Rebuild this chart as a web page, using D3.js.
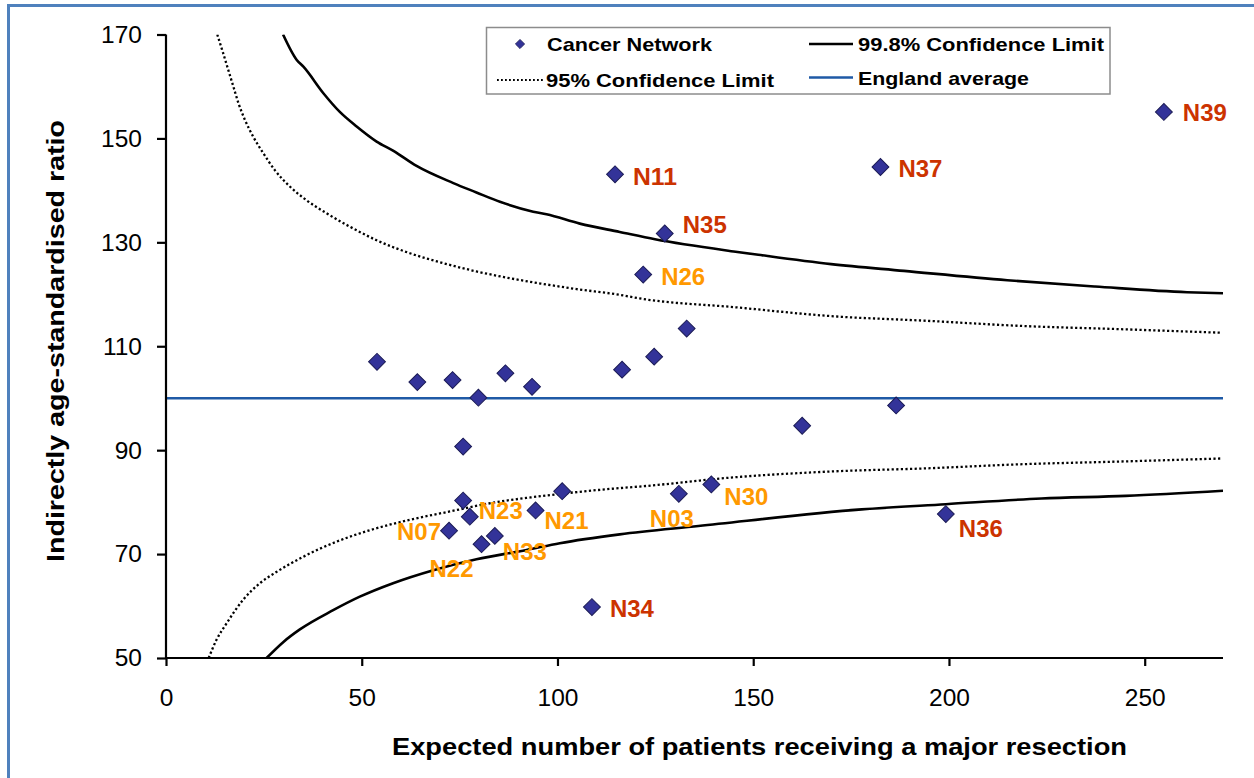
<!DOCTYPE html>
<html>
<head>
<meta charset="utf-8">
<script src="https://cdn.jsdelivr.net/npm/d3@7"></script>
<style>
  html, body { margin: 0; padding: 0; background: #ffffff; }
  svg { display: block; font-family: "Liberation Sans", Arial, sans-serif; }
</style>
</head>
<body>
<svg id="chart" width="1254" height="778"></svg>
<script>
// Cancer networks: expected number of patients vs indirectly age-standardised ratio
const networkNames = ["N39", "N37", "N11", "N35", "N26", "", "", "", "", "", "", "", "", "",
  "", "", "N23", "N07", "N22", "N33", "N21", "", "N03", "N30", "N34", "", "", "N36"];
const expectedPatients = [254.9, 182.5, 114.7, 127.4, 121.9, 133.0, 124.7, 116.5, 53.9, 64.2,
  73.2, 79.8, 86.7, 93.5, 75.9, 75.9, 77.6, 72.3, 80.6, 84.0, 94.4, 101.2, 131.0, 139.3, 108.8,
  162.5, 186.5, 199.2];
const standardisedRatio = [155.1, 144.5, 143.1, 131.7, 123.8, 113.4, 108.0, 105.5, 107.0, 103.1,
  103.5, 100.1, 104.8, 102.2, 90.7, 80.3, 77.2, 74.5, 71.9, 73.5, 78.4, 82.1, 81.6, 83.4, 59.8,
  94.7, 98.6, 77.7];
// which control limit each network lies outside of ("" = within 95% limits)
const limitExceeded = ["99.8", "99.8", "99.8", "99.8", "95", "", "", "", "", "", "", "", "", "",
  "", "", "95", "95", "95", "95", "95", "", "95", "95", "99.8", "", "", "99.8"];

// Funnel control limits
const upper998E = [29.9, 33.4, 35.1, 40.2, 44.4, 48.7, 53.8, 58.1, 64.0, 73.4, 79.3, 85.3, 93.8,
  97.2, 105.7, 115.9, 124.9, 145.5, 151.3, 169.9, 188.5, 214.9, 237.3, 260.8, 270];
const upper998R = [170, 165.1, 163.8, 158.7, 155.1, 152.3, 149.4, 147.6, 144.7, 141.4, 139.6,
  137.8, 135.9, 135.4, 133.6, 132.0, 130.6, 128.2, 127.6, 125.8, 124.5, 122.7, 121.5, 120.4, 120.2];
const upper95E = [13.1, 14.6, 15.9, 17.2, 18.5, 20.2, 22.3, 24.9, 27.8, 31.7, 35.9, 41.0, 47.0,
  53.8, 62.3, 70.8, 79.3, 87.8, 96.3, 104.9, 115.9, 121.0, 145.5, 169.9, 194.3, 218.8, 243.2, 269.6];
const upper95R = [170, 166.4, 163.2, 160.0, 156.8, 153.5, 150.3, 147.1, 143.9, 140.7, 138.1,
  135.6, 133.0, 130.4, 127.9, 126.0, 124.4, 123.1, 122.0, 121.0, 119.9, 119.2, 117.5, 115.8,
  114.9, 113.9, 113.3, 112.6];
const lower95E = [10.9, 12.9, 15.5, 19.7, 24.0, 28.3, 35.1, 43.6, 52.1, 62.3, 72.5, 83.6, 96.3,
  115.9, 121.0, 145.5, 169.9, 194.3, 218.8, 243.2, 269.6];
const lower95R = [50, 53.5, 56.7, 61.2, 64.4, 66.6, 69.5, 72.4, 74.6, 76.6, 78.2, 79.9, 81.2,
  82.7, 83.0, 84.8, 85.9, 86.5, 87.3, 87.8, 88.4];
const lower998E = [25.7, 30.0, 34.2, 42.7, 49.5, 58.0, 68.3, 79.3, 92.1, 100.6, 115.9, 136.0,
  177.7, 199.2, 223.6, 245.1, 270];
const lower998R = [50, 53.1, 55.5, 59.2, 61.8, 64.4, 66.9, 69.0, 70.8, 72.1, 73.8, 75.4, 78.6,
  79.6, 80.7, 81.2, 82.2];
const englandAverage = 100;

const xTicks = [0, 50, 100, 150, 200, 250];
const yTicks = [50, 70, 90, 110, 130, 150, 170];
const xTitle = "Expected number of patients receiving a major resection";
const yTitle = "Indirectly age-standardised ratio";
const legendItems = ["Cancer Network", "99.8% Confidence Limit", "95% Confidence Limit", "England average"];

// ---- drawing ----
const svg = d3.select("#chart");
const FONT = '"Liberation Sans", Arial, sans-serif';
const plot = { left: 166, right: 1223, top: 34.5, bottom: 658 };

const x = d3.scaleLinear().domain([0, 270]).range([plot.left, plot.right]);
const y = d3.scaleLinear().domain([50, 170]).range([plot.bottom, plot.top]);

// outer frame
svg.append("rect")
  .attr("x", 8.5).attr("y", 5.5).attr("width", 1300).attr("height", 900)
  .attr("fill", "none").attr("stroke", "#4f81bd").attr("stroke-width", 3);

svg.append("clipPath").attr("id", "plotClip")
  .append("rect")
  .attr("x", plot.left).attr("y", plot.top)
  .attr("width", plot.right - plot.left).attr("height", plot.bottom - plot.top);

const lineGen = d3.line()
  .x(d => x(d[0])).y(d => y(d[1]))
  .curve(d3.curveMonotoneX);

const curves = svg.append("g").attr("clip-path", "url(#plotClip)");

function drawLimit(eArr, rArr, dotted) {
  curves.append("path")
    .datum(eArr.map((e, i) => [e, rArr[i]]))
    .attr("d", lineGen)
    .attr("fill", "none")
    .attr("stroke", "#000")
    .attr("stroke-width", dotted ? 2.3 : 2.6)
    .attr("stroke-dasharray", dotted ? "2.2,2.4" : null);
}
drawLimit(upper998E, upper998R, false);
drawLimit(lower998E, lower998R, false);
drawLimit(upper95E, upper95R, true);
drawLimit(lower95E, lower95R, true);

// England average
svg.append("line")
  .attr("x1", x(0)).attr("x2", x(270))
  .attr("y1", y(englandAverage)).attr("y2", y(englandAverage))
  .attr("stroke", "#1f5aa6").attr("stroke-width", 2.6);

// axes
const yAxis = svg.append("g")
  .attr("transform", `translate(${plot.left},0)`)
  .call(d3.axisLeft(y).tickValues(yTicks).tickSize(9).tickSizeOuter(0).tickPadding(15));
const xAxis = svg.append("g")
  .attr("transform", `translate(0,${plot.bottom})`)
  .call(d3.axisBottom(x).tickValues(xTicks).tickSize(8).tickSizeOuter(0).tickPadding(23));
[xAxis, yAxis].forEach(g => {
  g.select(".domain").attr("stroke", "#000").attr("stroke-width", 2.2);
  g.selectAll(".tick line").attr("stroke", "#000").attr("stroke-width", 2.2);
  g.selectAll(".tick text").attr("fill", "#000")
    .style("font-family", FONT).style("font-size", "24.5px");
});
xAxis.select(".domain").attr("d", `M${plot.left},0H${plot.right}`);
yAxis.select(".domain").attr("d", `M0,${plot.bottom}V${plot.top}`);

// data points
const pts = expectedPatients.map((e, i) => ({
  e, r: standardisedRatio[i], name: networkNames[i], limit: limitExceeded[i]
}));

svg.append("g").selectAll("path")
  .data(pts).join("path")
  .attr("d", d3.symbol().type(d3.symbolSquare).size(142))
  .attr("transform", d => `translate(${x(d.e)},${y(d.r)}) rotate(45)`)
  .attr("fill", "#333399").attr("stroke", "#1b1b55").attr("stroke-width", 1);

// label offsets from each point: [dx, dy, anchor]
const labelPlacement = {
  N39: [19, 9, "start"], N37: [18, 10, "start"], N11: [18, 11, "start"],
  N35: [18, -1, "start"], N26: [18, 10, "start"], N23: [9, 2, "start"],
  N07: [-8, 9.5, "end"], N22: [-8, 33, "end"], N33: [8, 24, "start"],
  N21: [9, 19, "start"], N03: [-29, 33.5, "start"], N30: [13, 20.5, "start"],
  N34: [18, 10, "start"], N36: [13, 23, "start"]
};
svg.append("g").selectAll("text")
  .data(pts.filter(d => d.name)).join("text")
  .attr("x", d => x(d.e) + labelPlacement[d.name][0])
  .attr("y", d => y(d.r) + labelPlacement[d.name][1])
  .attr("text-anchor", d => labelPlacement[d.name][2])
  .attr("textLength", 44)
  .attr("lengthAdjust", "spacingAndGlyphs")
  .attr("fill", d => d.limit === "99.8" ? "#cc3300" : "#ff9900")
  .style("font-family", FONT).style("font-size", "23.5px").style("font-weight", "bold")
  .text(d => d.name);

// axis titles
svg.append("text")
  .attr("x", 759.5).attr("y", 755)
  .attr("text-anchor", "middle")
  .attr("textLength", 735)
  .attr("lengthAdjust", "spacingAndGlyphs")
  .style("font-family", FONT).style("font-size", "24.5px").style("font-weight", "bold")
  .text(xTitle);
svg.append("text")
  .attr("transform", "translate(64,341) rotate(-90)")
  .attr("text-anchor", "middle")
  .attr("textLength", 442)
  .attr("lengthAdjust", "spacingAndGlyphs")
  .style("font-family", FONT).style("font-size", "24.5px").style("font-weight", "bold")
  .text(yTitle);

// legend
const lg = svg.append("g");
lg.append("rect")
  .attr("x", 486.5).attr("y", 27.5).attr("width", 623.5).attr("height", 66.5)
  .attr("fill", "#fff").attr("stroke", "#8c8c8c").attr("stroke-width", 1.5);
lg.append("path")
  .attr("d", d3.symbol().type(d3.symbolSquare).size(42))
  .attr("transform", "translate(520,44) rotate(45)")
  .attr("fill", "#333399").attr("stroke", "#1b1b55").attr("stroke-width", 0.8);
lg.append("line").attr("x1", 809).attr("x2", 853).attr("y1", 44).attr("y2", 44)
  .attr("stroke", "#000").attr("stroke-width", 2.4);
lg.append("line").attr("x1", 497).attr("x2", 543).attr("y1", 80).attr("y2", 80)
  .attr("stroke", "#000").attr("stroke-width", 1.8).attr("stroke-dasharray", "1.8,2.2");
lg.append("line").attr("x1", 809).attr("x2", 853).attr("y1", 77.5).attr("y2", 77.5)
  .attr("stroke", "#1f5aa6").attr("stroke-width", 2.4);
const legendText = [
  [547, 51, 165], [858, 51, 246], [546, 86.5, 228], [858, 84.5, 171]
];
legendItems.forEach((t, i) => {
  lg.append("text")
    .attr("x", legendText[i][0]).attr("y", legendText[i][1])
    .attr("textLength", legendText[i][2])
    .attr("lengthAdjust", "spacingAndGlyphs")
    .style("font-family", FONT).style("font-size", "19px").style("font-weight", "bold")
    .attr("fill", "#000")
    .text(t);
});
</script>
</body>
</html>
